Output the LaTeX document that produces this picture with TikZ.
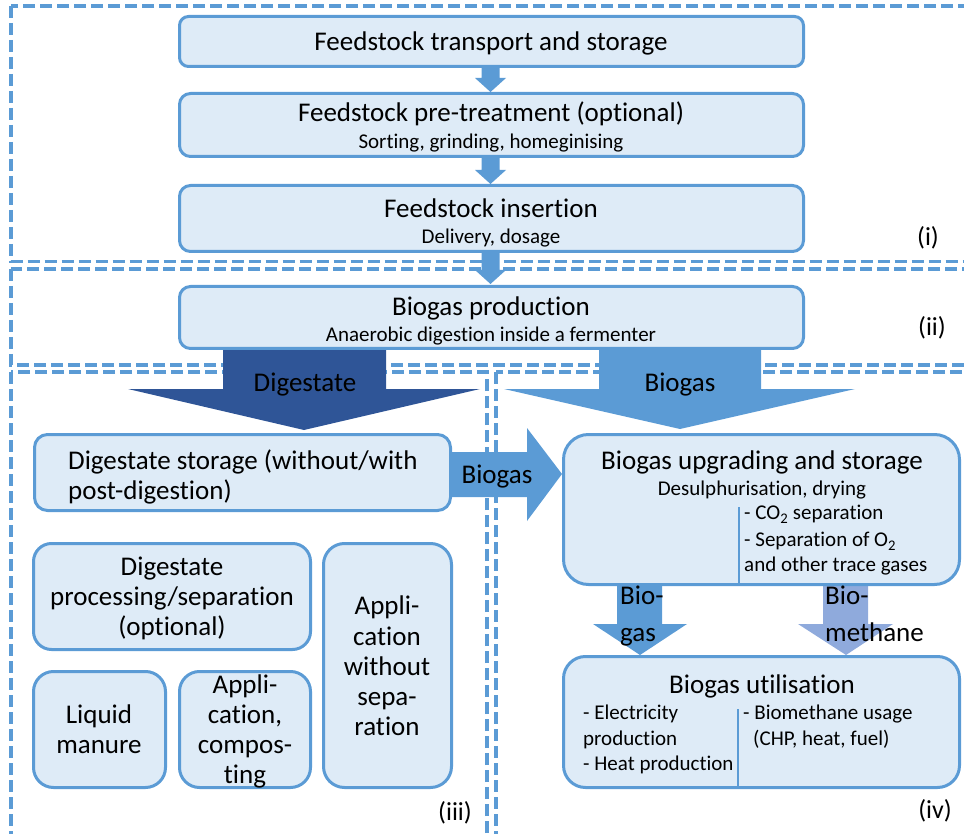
\documentclass[tikz,border=0pt]{standalone}
\usepackage{fontspec}
\setmainfont{Carlito}[Ligatures=NoCommon]
\usetikzlibrary{fit}

\definecolor{edgeblue}{HTML}{5B9BD5}
\definecolor{fillblue}{HTML}{DEEBF7}
\definecolor{darkblue}{HTML}{2F5597}
\definecolor{lightviolet}{HTML}{8FAADC}

\tikzset{
  stage/.style={draw=edgeblue, fill=fillblue, line width=3pt, inner sep=0pt, outer sep=0pt},
  region/.style={draw=edgeblue, line width=3.5pt, dash pattern=on 12pt off 5pt},
  bigtxt/.style={font=\fontsize{27}{32}\selectfont, inner sep=0pt, text height=19pt, text depth=1.4pt},
  smalltxt/.style={font=\fontsize{21}{25}\selectfont, inner sep=0pt, text height=14.7pt, text depth=0.9pt},
  tagtxt/.style={font=\fontsize{26}{30}\selectfont, inner sep=0pt, text height=18.2pt, text depth=1.4pt},
  flow/.style={fill=edgeblue, draw=none},
  divider/.style={draw=edgeblue, line width=2.5pt}
}

\begin{document}
\begin{tikzpicture}[x=1pt, y=-1pt]
\useasboundingbox (0,0) rectangle (964,834);

% dashed process regions (i)-(iv)
\begin{scope}
  \clip (0,0) rectangle (964,834);
  \draw[region] (11,6) rectangle (1000,261.5);
  \draw[region] (11,269) rectangle (1000,365);
  \draw[region] (11,372) rectangle (487,900);
  \draw[region] (496,372) rectangle (1000,900);
\end{scope}

% block arrows
\fill[darkblue] (223,349) -- (386,349) -- (386,389) -- (480,389) -- (304,430)
  -- (128,389) -- (223,389) -- cycle;
\fill[flow] (599,349) -- (761,349) -- (761,389) -- (855,389) -- (680,429)
  -- (504,389) -- (599,389) -- cycle;
\fill[flow] (450,452) -- (527,452) -- (527,428) -- (562,474) -- (527,521)
  -- (527,497) -- (450,497) -- cycle;
\fill[flow] (617,584) -- (662,584) -- (662,624) -- (687,624) -- (640,655)
  -- (593,624) -- (617,624) -- cycle;
\fill[lightviolet] (823,584) -- (868,584) -- (868,624) -- (893,624) -- (846,655)
  -- (798,624) -- (823,624) -- cycle;
\foreach \ya/\yb in {67/92, 157/184, 252/284}{
  \fill[flow] (481.5,\ya) -- (499.5,\ya) -- (499.5,\yb-14) -- (506,\yb-14)
    -- (490.5,\yb) -- (475,\yb-14) -- (481.5,\yb-14) -- cycle;
}

% process stages
\node[stage, rounded corners=9,  fit={(179.5,16.5) (803.5,66.5)}] (transport) {};
\node[stage, rounded corners=11, fit={(179.5,93.5) (803.5,156.5)}] (pretreat) {};
\node[stage, rounded corners=11, fit={(179.5,185.5) (803.5,251.5)}] (insert) {};
\node[stage, rounded corners=11, fit={(179.5,286.5) (803.5,348.5)}] (production) {};
\node[stage, rounded corners=13, fit={(34.5,434.5) (450.5,510.5)}] (dstore) {};
\node[stage, rounded corners=25, fit={(563.5,434.5) (959.5,584.5)}] (upgrade) {};
\node[stage, rounded corners=22, fit={(563.5,656.5) (959.5,787.5)}] (util) {};
\node[stage, rounded corners=18, fit={(33.5,543.5) (310.5,649.5)}] (dproc) {};
\node[stage, rounded corners=20, fit={(33.5,671.5) (165.5,787.5)}] (liquid) {};
\node[stage, rounded corners=20, fit={(179.5,671.5) (310.5,787.5)}] (compost) {};
\node[stage, rounded corners=21, fit={(323.5,543.5) (451.5,787.5)}] (applic) {};

% dividers inside the gas boxes
\coordinate (updiv) at (739,507);
\coordinate (utdiv) at (738,709);
\draw[divider] (updiv) -- (updiv |- upgrade.south);
\draw[divider] (utdiv) -- (utdiv |- util.south);

% labels of the feedstock chain
\node[bigtxt] (t1) at (491,42) {Feedstock transport and storage};
\node[bigtxt] (t2) at (491,113) {Feedstock pre-treatment (optional)};
\node[smalltxt] (s2) at (491,142) {Sorting, grinding, homeginising};
\node[bigtxt] (t3) at (491,209) {Feedstock insertion};
\node[smalltxt] (s3) at (491,237) {Delivery, dosage};
\node[bigtxt] (t4) at (491,307) {Biogas production};
\node[smalltxt] (s4) at (491,335) {Anaerobic digestion inside a fermenter};
\node[tagtxt] (r1) at (928,237) {(i)};
\node[tagtxt] (r2) at (932,327) {(ii)};

% arrow labels
\node[bigtxt] (adig) at (305,383) {Digestate};
\node[bigtxt] (agas) at (680,383) {Biogas};
\node[bigtxt] (agas2) at (497,475) {Biogas};
\node[bigtxt, anchor=west] (abio1) at (620,596) {Bio-};
\node[bigtxt, anchor=west] (abio2) at (620,633) {gas};
\node[bigtxt, anchor=west] (ameth1) at (825,596) {Bio-};
\node[bigtxt, anchor=west] (ameth2) at (825,633) {methane};

% digestate branch
\node[bigtxt, anchor=west] (d1) at (68,461) {Digestate storage (without/with};
\node[bigtxt, anchor=west] (d2) at (68,491) {post-digestion)};
\node[bigtxt] (p1) at (172,567) {Digestate};
\node[bigtxt] (p2) at (172,597) {processing/separation};
\node[bigtxt] (p3) at (172,627) {(optional)};
\node[bigtxt] (l1) at (99,715) {Liquid};
\node[bigtxt] (l2) at (99,745) {manure};
\node[bigtxt] (c1) at (245,685) {Appli-};
\node[bigtxt] (c2) at (245,715) {cation,};
\node[bigtxt] (c3) at (245,745) {compos-};
\node[bigtxt] (c4) at (245,775) {ting};
\node[bigtxt] (w1) at (387,606) {Appli-};
\node[bigtxt] (w2) at (387,637) {cation};
\node[bigtxt] (w3) at (387,667) {without};
\node[bigtxt] (w4) at (387,697) {sepa-};
\node[bigtxt] (w5) at (387,727) {ration};
\node[tagtxt] (r3) at (455,812) {(iii)};

% gas branch
\node[bigtxt] (u0) at (762,461) {Biogas upgrading and storage};
\node[smalltxt] (u1) at (762,489) {Desulphurisation, drying};
\node[smalltxt, anchor=west] (u2) at (744,513) {- CO\textsubscript{2} separation};
\node[smalltxt, anchor=west] (u3) at (744,540) {- Separation of O\textsubscript{2}};
\node[smalltxt, anchor=west] (u4) at (744,565) {and other trace gases};
\node[bigtxt] (g0) at (762,685) {Biogas utilisation};
\node[smalltxt, anchor=west] (g1) at (583,713) {- Electricity};
\node[smalltxt, anchor=west] (g2) at (583,739) {production};
\node[smalltxt, anchor=west] (g3) at (583,764) {- Heat production};
\node[smalltxt, anchor=west] (g4) at (743,713) {- Biomethane usage};
\node[smalltxt, anchor=west] (g5) at (753,739) {(CHP, heat, fuel)};
\node[tagtxt] (r4) at (935,810) {(iv)};
\end{tikzpicture}
\end{document}
